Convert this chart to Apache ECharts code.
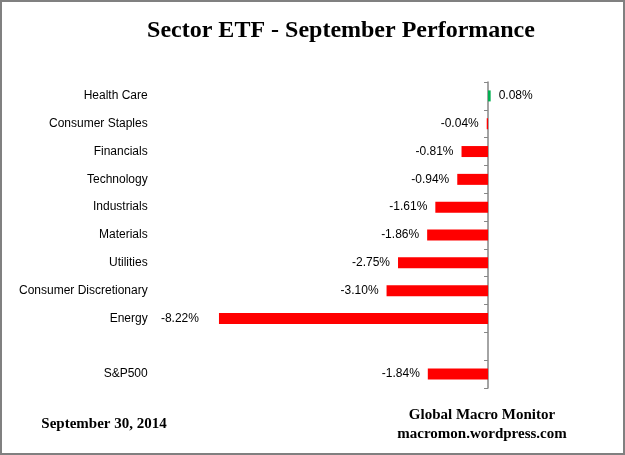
<!DOCTYPE html>
<html>
<head>
<meta charset="utf-8">
<script src="https://cdn.jsdelivr.net/npm/echarts@6/dist/echarts.min.js"></script>
<style>
html,body{margin:0;padding:0;background:#fff;}
#wrap{width:625px;height:455px;box-sizing:border-box;border:2px solid #808080;position:relative;}
#chart{position:absolute;left:-2px;top:-2px;width:625px;height:455px;}
</style>
</head>
<body>
<div id="wrap"><div id="chart"></div></div>
<script>
var categories = ['Health Care','Consumer Staples','Financials','Technology','Industrials','Materials','Utilities','Consumer Discretionary','Energy','','S&P500'];
var values = [0.08, -0.04, -0.81, -0.94, -1.61, -1.86, -2.75, -3.10, -8.22, null, -1.84];
var titleText = 'Sector ETF - September Performance';
var dateText = 'September 30, 2014';
var sourceLines = ['Global Macro Monitor', 'macromon.wordpress.com'];

var chart = echarts.init(document.getElementById('chart'));
var labelFont = 'Liberation Sans, Arial, sans-serif';
var seriesData = values.map(function (v, i) {
  if (v === null) return '-';
  var item = {
    value: v,
    itemStyle: { color: v >= 0 ? '#00B050' : '#FF0000' },
    label: { position: v >= 0 ? 'right' : 'left', distance: 8 }
  };
  if (categories[i] === 'Energy') item.label.distance = 20;
  return item;
});

chart.setOption({
  animation: false,
  title: [{
    text: titleText,
    left: 336, top: 14, textAlign: 'center',
    textStyle: { fontFamily: 'Liberation Serif, Times New Roman, serif', fontWeight: 'bold', fontSize: 24, color: '#000' }
  }, {
    text: dateText,
    left: 99, top: 412, textAlign: 'center',
    textStyle: { fontFamily: 'Liberation Serif, Times New Roman, serif', fontWeight: 'bold', fontSize: 15, color: '#000' }
  }, {
    text: sourceLines.join('\n'),
    left: 477, top: 401, textAlign: 'center',
    textStyle: { fontFamily: 'Liberation Serif, Times New Roman, serif', fontWeight: 'bold', fontSize: 15, lineHeight: 19, color: '#000' }
  }],
  grid: { left: 160.7, right: 71.5, top: 82, bottom: 67, containLabel: false, outerBoundsMode: 'none' },
  xAxis: {
    type: 'value', min: -10, max: 2, show: false
  },
  yAxis: [{
    type: 'category', data: categories, inverse: true, position: 'left',
    axisLine: { show: false, onZero: false },
    axisTick: { show: false },
    axisLabel: { margin: 13, fontFamily: labelFont, fontSize: 12, color: '#000' },
    splitLine: { show: false }
  }, {
    type: 'category', data: categories, inverse: true, position: 'left',
    axisLine: { show: true, onZero: true, lineStyle: { color: '#868686', width: 1.5 } },
    axisTick: { show: true, length: 4, inside: false, lineStyle: { color: '#868686' } },
    axisLabel: { show: false },
    splitLine: { show: false }
  }],
  series: [{
    type: 'bar', data: seriesData, barWidth: 11, yAxisIndex: 0,
    label: {
      show: true, fontFamily: labelFont, fontSize: 12, color: '#000',
      formatter: function (p) { return p.value.toFixed(2) + '%'; }
    }
  }]
});
</script>
</body>
</html>
